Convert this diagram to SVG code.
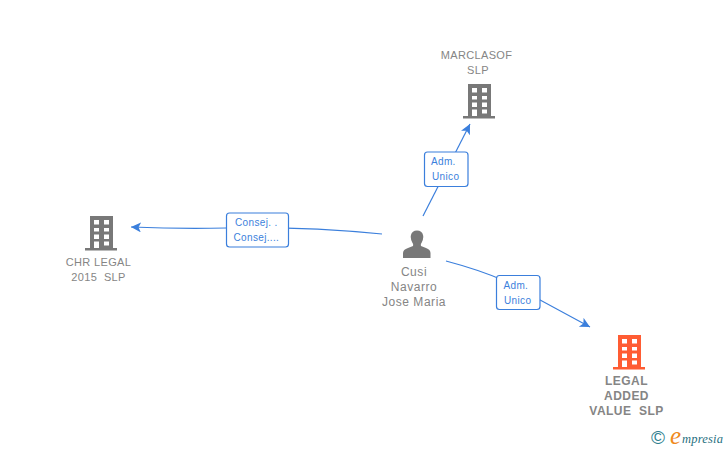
<svg xmlns="http://www.w3.org/2000/svg" width="728" height="450" viewBox="0 0 728 450">
<style>
.n{font:11px "Liberation Sans",Arial,sans-serif;fill:#858585;text-anchor:middle;letter-spacing:.35px}
.p{font-size:12px;letter-spacing:.55px}
.b{font-weight:bold;font-size:12px;letter-spacing:.45px}
.l{font:10px "Liberation Sans",Arial,sans-serif;fill:#3b7fdc;text-anchor:start;letter-spacing:.35px}
.c{fill:none;stroke:#3b7fdc;stroke-width:1.2;marker-end:url(#a)}
.box{fill:#fff;stroke:#3b7fdc;stroke-width:1.2}
</style>
<defs>
<marker id="a" markerUnits="userSpaceOnUse" markerWidth="12" markerHeight="12" refX="10" refY="5" orient="auto"><path d="M0 0L10 5L0 10L2.500 5Z" fill="#3b7fdc"/></marker>
<path id="bld" fill-rule="evenodd" d="M5 0H28V32H32V34.500H0V32H5ZM9 4V8.500H14V4ZM19 4V8.500H24V4ZM9 12V15.500H14V12ZM19 12V15.500H24V12ZM9 18.500V23H14V18.500ZM19 18.500V23H24V18.500ZM9 25.500V32H14V25.500ZM19 25.500V29.500H24V25.500Z"/>
</defs>
<rect width="728" height="450" fill="#fff"/>
<g id="connectors">
<path class="c" d="M423 216L470 124"/>
<path class="c" d="M382 234Q300 226 226 228Q180 229 131 227"/>
<path class="c" d="M446 261Q480 270 505 281L590 327"/>
</g>
<g id="edge-labels">
<rect class="box" x="424.500" y="152" width="43.500" height="34.500" rx="3"/>
<text class="l" x="431" y="165">Adm.</text><text class="l" x="432" y="180">Unico</text>
<rect class="box" x="226.500" y="213" width="62" height="34" rx="3"/>
<text class="l" x="235" y="226">Consej. .</text><text class="l" x="233.500" y="241">Consej....</text>
<rect class="box" x="496.500" y="275.500" width="43.500" height="34" rx="3"/>
<text class="l" x="503.500" y="289">Adm.</text><text class="l" x="504" y="304">Unico</text>
</g>
<g id="node-marclasof">
<text class="n" x="476.500" y="59">MARCLASOF</text><text class="n" x="478" y="74">SLP</text>
<use href="#bld" x="463" y="84" fill="#787878"/>
</g>
<g id="node-chr">
<use href="#bld" x="85" y="216" fill="#787878"/>
<text class="n" x="98.500" y="266">CHR LEGAL</text><text class="n" x="98.500" y="281" xml:space="preserve">2015  SLP</text>
</g>
<g id="node-cusi">
<path d="M403 258V253Q403 249.500 408 248L413 246Q413.500 244 412.500 243Q410 238 411 235Q412 230.500 417 230.500Q422 230.500 423 235Q424 238 421.500 243Q420.500 244 421 246L426 248Q430.500 249.500 430.500 253V258Z" fill="#787878"/>
<text class="n p" x="414" y="276">Cusi</text><text class="n p" x="414" y="291">Navarro</text><text class="n p" x="414" y="306">Jose Maria</text>
</g>
<g id="node-legal">
<use href="#bld" x="613" y="335" fill="#ff5c33"/>
<text class="n b" x="626.500" y="385">LEGAL</text><text class="n b" x="626.500" y="400">ADDED</text><text class="n b" x="626.500" y="415" xml:space="preserve">VALUE  SLP</text>
</g>
<g id="logo">
<text x="658" y="444" font-family="Liberation Sans,sans-serif" font-size="19" fill="#2f7f8f" text-anchor="middle">©</text>
<text x="670" y="444" font-family="Liberation Serif,serif" font-style="italic" font-size="25" fill="#f08a1d">e</text>
<text x="682" y="443" font-family="Liberation Serif,serif" font-style="italic" font-size="12.500" letter-spacing=".2" fill="#1f6f80">mpresia</text>
</g>
</svg>
